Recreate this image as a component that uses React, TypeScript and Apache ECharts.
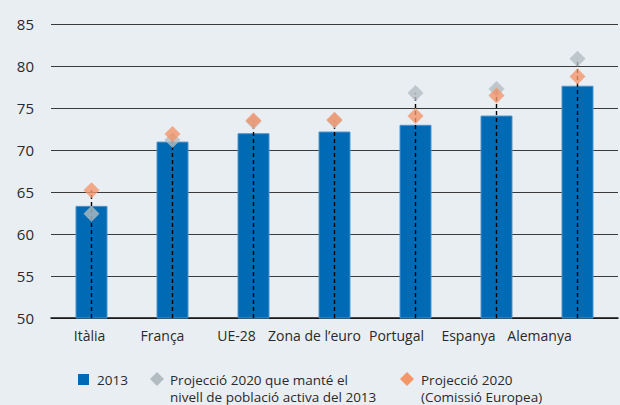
import React, { useEffect, useRef } from "react";
import * as echarts from "echarts";

const categories = ["Itàlia", "França", "UE-28", "Zona de l’euro", "Portugal", "Espanya", "Alemanya"];
const values2013 = [63.35, 71.0, 72.0, 72.2, 73.0, 74.1, 77.65];
const projConstant = [62.4, 71.2, 73.4, 73.5, 76.8, 77.25, 80.85];
const projEC = [65.2, 71.9, 73.5, 73.6, 74.05, 76.5, 78.75];

// layout: how far each category label sits left of its bar centre (px)
const labelShiftLeft = [2, 10, 17, 20, 19, 28, 38];

const FONT = "'Open Sans', 'Noto Sans', sans-serif";
const BLUE = "#006AB4";
const GRAY = "#B3BDC1";
const ORANGE = "#F4956A";
const BG = "#E9EEF3";
const TXT = "#2a2a2a";

export default function App() {
  const ref = useRef<HTMLDivElement>(null);
  useEffect(() => {
    if (!ref.current) return;
    const chart = echarts.init(ref.current, undefined, { renderer: "svg" });
    const stemData = categories.map((_, i) => [i, Math.max(projConstant[i], projEC[i])]);
    const legendText = (x: number, y: number, text: string) => ({
      type: "text",
      x,
      y,
      style: { text, fill: TXT, font: `13.5px ${FONT}`, textVerticalAlign: "middle" },
    });
    chart.setOption({
      animation: false,
      backgroundColor: BG,
      textStyle: { fontFamily: FONT },
      grid: { left: 51, right: 2, top: 24, bottom: 87, containLabel: false },
      xAxis: {
        type: "category",
        data: categories.map((c, i) => ({
          value: c,
          textStyle: { padding: [0, labelShiftLeft[i] * 2, 0, 0] },
        })),
        axisLine: { lineStyle: { color: "#111", width: 1.5 } },
        axisTick: { inside: true, length: 5, lineStyle: { color: "#333", width: 1.5 } },
        axisLabel: { color: TXT, fontSize: 14, fontFamily: FONT, margin: 10, interval: 0 },
      },
      yAxis: {
        type: "value",
        min: 50,
        max: 85,
        interval: 5,
        axisLine: { show: false },
        axisTick: { show: false },
        axisLabel: { color: TXT, fontSize: 15, fontFamily: FONT, margin: 17 },
        splitLine: { lineStyle: { color: "#3a3a3a", width: 1 } },
      },
      series: [
        {
          type: "bar",
          data: values2013,
          barWidth: 32,
          itemStyle: { color: BLUE, borderColor: "#4F93CB", borderWidth: 1 },
          z: 2,
        },
        {
          type: "custom",
          data: stemData,
          z: 3,
          renderItem: (params: any, api: any) => {
            const top = api.coord([api.value(0), api.value(1)]);
            const base = api.coord([api.value(0), 50]);
            return {
              type: "line",
              shape: { x1: top[0], y1: base[1], x2: top[0], y2: top[1] },
              style: { stroke: "#000", lineWidth: 1.4, lineDash: [4, 3] },
            };
          },
        },
        {
          type: "scatter",
          data: projConstant,
          symbol: "diamond",
          symbolSize: [16, 16],
          itemStyle: { color: GRAY },
          z: 4,
        },
        {
          type: "scatter",
          data: projEC,
          symbol: "diamond",
          symbolSize: [16, 16],
          itemStyle: { color: ORANGE },
          z: 5,
        },
      ],
      graphic: [
        { type: "rect", shape: { x: 78, y: 374, width: 11, height: 11 }, style: { fill: BLUE } },
        legendText(97, 380, "2013"),
        {
          type: "polygon",
          shape: { points: [[157, 372], [164, 379], [157, 386], [150, 379]] },
          style: { fill: GRAY },
        },
        legendText(170, 380, "Projecció 2020 que manté el"),
        legendText(170, 397, "nivell de població activa del 2013"),
        {
          type: "polygon",
          shape: { points: [[407, 372], [414, 379], [407, 386], [400, 379]] },
          style: { fill: ORANGE },
        },
        legendText(421, 380, "Projecció 2020"),
        legendText(421, 397, "(Comissió Europea)"),
      ],
    });
    return () => chart.dispose();
  }, []);
  return (
    <div
      ref={ref}
      style={{ position: "fixed", left: 0, top: 0, width: 620, height: 405, background: BG }}
    />
  );
}
